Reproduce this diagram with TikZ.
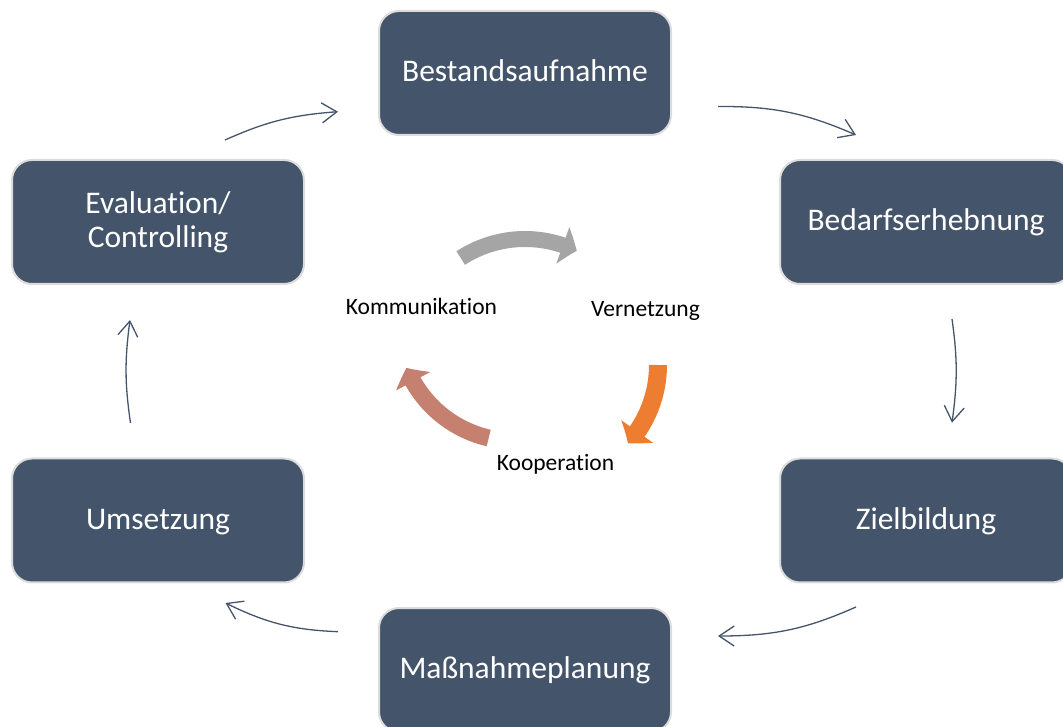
\documentclass[tikz,border=0pt]{standalone}
\usepackage{fontspec}
\setmainfont{Carlito}[Ligatures=NoCommon]
\usetikzlibrary{arrows.meta,bending}

\definecolor{slate}{HTML}{44546A}
\definecolor{rim}{HTML}{DCDCDC}
\definecolor{cgray}{HTML}{A5A5A5}
\definecolor{corange}{HTML}{ED7D31}
\definecolor{crose}{HTML}{C5806F}

\tikzset{
  stage/.style={draw=rim, line width=2pt, fill=slate, rounded corners=20pt,
    minimum width=292pt, minimum height=124pt, inner sep=0pt, text=white,
    font=\fontsize{31.5pt}{34pt}\selectfont, align=center},
  oneline/.style={text height=23.6pt, text depth=6.3pt},
  flow/.style={draw=slate, line width=1.3pt,
    -{Straight Barb[length=15pt,width=20pt]}},
  cyc/.style={-{Triangle[length=15pt,width=38pt,bend]}},
  lbl/.style={font=\fontsize{23.5pt}{28pt}\selectfont, anchor=base, inner sep=0pt}
}

\begin{document}
\begin{tikzpicture}[x=1pt,y=1pt]
\useasboundingbox (0,0) rectangle (1063,726);
\clip (0,0) rectangle (1063,726);

% process stages
\node[stage,oneline] (best)   at (525,653)   {Bestandsaufnahme};
\node[stage,oneline] (bedarf) at (926,504)   {Bedarfserhebnung};
\node[stage,oneline] (ziel)   at (926,205.5) {Zielbildung};
\node[stage,oneline] (mass)   at (525,56)    {Maßnahmeplanung};
\node[stage,oneline] (ums)    at (158,205.5) {Umsetzung};
\node[stage]         (eval)   at (158,504)   {Evaluation/\\Controlling};

% end points of the connecting arrows
\coordinate (a1) at (225,586);   \coordinate (b1) at (338,614.3);
\coordinate (a2) at (718,619.5); \coordinate (b2) at (856,591);
\coordinate (a3) at (952,407);   \coordinate (b3) at (952,303.3);
\coordinate (a4) at (856,119);   \coordinate (b4) at (718,90);
\coordinate (a5) at (338,94.3);  \coordinate (b5) at (225.5,123);
\coordinate (a6) at (130.5,303); \coordinate (b6) at (130,406);

\draw[flow] (a1) to[bend left=10] (b1);
\draw[flow] (a2) to[bend left=12] (b2);
\draw[flow] (a3) to[bend left=8]  (b3);
\draw[flow] (a4) to[bend left=12] (b4);
\draw[flow] (a5) to[bend left=12] (b5);
\draw[flow] (a6) to[bend left=8]  (b6);

% inner cycle
\coordinate (cg) at (525,369);
\coordinate (co) at (541,361);
\coordinate (cr) at (515,402);
\draw[cyc, cgray, line width=16pt]
  ([shift={(123:118)}]cg) arc[start angle=123, end angle=64, radius=118];
\draw[cyc, corange, line width=18pt]
  ([shift={(0:117)}]co) arc[start angle=0, end angle=-42, radius=117];
\draw[cyc, crose, line width=17pt]
  ([shift={(257:117)}]cr) arc[start angle=257, end angle=202, radius=117];

\node[lbl] (komm) at (421.5,411)   {Kommunikation};
\node[lbl] (vern) at (645.5,409.3) {Vernetzung};
\node[lbl] (koop) at (555.5,255.3) {Kooperation};
\end{tikzpicture}
\end{document}
